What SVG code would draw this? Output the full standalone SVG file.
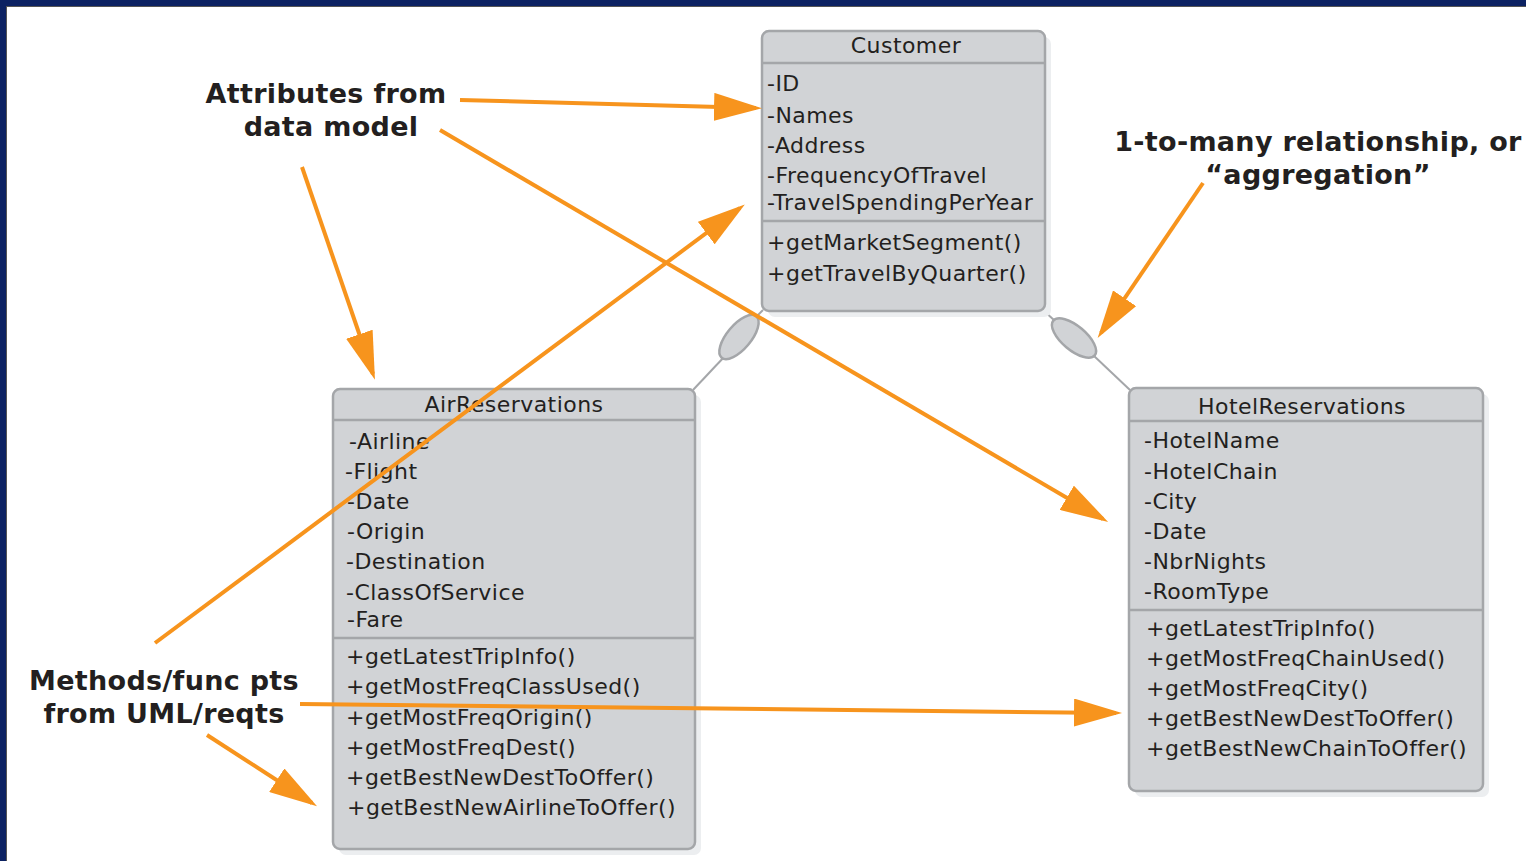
<svg xmlns="http://www.w3.org/2000/svg" width="1526" height="861" viewBox="0 0 1526 861">
<style>
.box{fill:#d1d3d6;stroke:#a4a6a9;stroke-width:2.5}
.shadow{fill:#eceef0}
.sep{stroke:#a4a6a9;stroke-width:2.5}
.t{font-family:"DejaVu Sans",sans-serif;font-size:22px;fill:#231f20;letter-spacing:0.45px}
.c{text-anchor:middle}
.lbl{font-family:"DejaVu Sans",sans-serif;font-size:27px;font-weight:bold;fill:#231f20;text-anchor:middle;letter-spacing:0.3px}
.assoc{stroke:#a4a6a9;stroke-width:2;fill:none}
.agg{fill:#d1d3d6;stroke:#a4a6a9;stroke-width:2.5}
.arr{stroke:#f7941d;stroke-width:4;fill:none;marker-end:url(#ah)}
</style>
<defs>
<marker id="ah" viewBox="0 0 12 7" refX="10.5" refY="3.5" markerWidth="12" markerHeight="7" orient="auto" markerUnits="strokeWidth">
<path d="M0,0 L12,3.5 L0,7 z" fill="#f7941d"/>
</marker>
</defs>
<rect x="0" y="0" width="1526" height="861" fill="#ffffff"/>
<rect x="0" y="0" width="1526" height="6" fill="#0c2262"/>
<rect x="0" y="0" width="6" height="861" fill="#0c2262"/>
<line x1="6" y1="6.5" x2="1526" y2="6.5" stroke="#555" stroke-width="1"/>
<line x1="6.5" y1="6" x2="6.5" y2="861" stroke="#555" stroke-width="1"/>

<g id="connectors">
<line class="assoc" x1="763" y1="310" x2="752" y2="321"/>
<line class="assoc" x1="725" y1="356" x2="693" y2="390"/>
<ellipse class="agg" cx="739" cy="337" rx="27" ry="12" transform="rotate(-50 739 337)"/>
<line class="assoc" x1="1043" y1="310" x2="1055" y2="321"/>
<line class="assoc" x1="1093" y1="355" x2="1130" y2="390"/>
<ellipse class="agg" cx="1074" cy="338" rx="27" ry="12" transform="rotate(40 1074 338)"/>
</g>

<g id="customer">
<rect class="shadow" x="768" y="37" width="283" height="280" rx="7"/>
<rect class="box" x="762" y="31" width="283" height="280" rx="7"/>
<line class="sep" x1="762" y1="63" x2="1045" y2="63"/>
<line class="sep" x1="762" y1="221" x2="1045" y2="221"/>
<text class="t c" x="906" y="53">Customer</text>
<text class="t" x="767" y="91">-ID</text>
<text class="t" x="767" y="123">-Names</text>
<text class="t" x="767" y="153">-Address</text>
<text class="t" x="767" y="183">-FrequencyOfTravel</text>
<text class="t" x="767" y="210">-TravelSpendingPerYear</text>
<text class="t" x="767" y="250">+getMarketSegment()</text>
<text class="t" x="767" y="281">+getTravelByQuarter()</text>
</g>

<g id="air">
<rect class="shadow" x="339" y="395" width="362" height="460" rx="7"/>
<rect class="box" x="333" y="389" width="362" height="460" rx="7"/>
<line class="sep" x1="333" y1="420" x2="695" y2="420"/>
<line class="sep" x1="333" y1="638" x2="695" y2="638"/>
<text class="t c" x="514" y="412">AirReservations</text>
<text class="t" x="349" y="449">-Airline</text>
<text class="t" x="345" y="479">-Flight</text>
<text class="t" x="347" y="509">-Date</text>
<text class="t" x="347" y="539">-Origin</text>
<text class="t" x="346" y="569">-Destination</text>
<text class="t" x="346" y="600">-ClassOfService</text>
<text class="t" x="347" y="627">-Fare</text>
<text class="t" x="346" y="664">+getLatestTripInfo()</text>
<text class="t" x="346" y="694">+getMostFreqClassUsed()</text>
<text class="t" x="346" y="725">+getMostFreqOrigin()</text>
<text class="t" x="346" y="755">+getMostFreqDest()</text>
<text class="t" x="346" y="785">+getBestNewDestToOffer()</text>
<text class="t" x="347" y="815">+getBestNewAirlineToOffer()</text>
</g>

<g id="hotel">
<rect class="shadow" x="1135" y="394" width="354" height="403" rx="7"/>
<rect class="box" x="1129" y="388" width="354" height="403" rx="7"/>
<line class="sep" x1="1129" y1="421" x2="1483" y2="421"/>
<line class="sep" x1="1129" y1="610" x2="1483" y2="610"/>
<text class="t c" x="1302" y="414">HotelReservations</text>
<text class="t" x="1144" y="448">-HotelName</text>
<text class="t" x="1144" y="479">-HotelChain</text>
<text class="t" x="1144" y="509">-City</text>
<text class="t" x="1144" y="539">-Date</text>
<text class="t" x="1144" y="569">-NbrNights</text>
<text class="t" x="1144" y="599">-RoomType</text>
<text class="t" x="1146" y="636">+getLatestTripInfo()</text>
<text class="t" x="1146" y="666">+getMostFreqChainUsed()</text>
<text class="t" x="1146" y="696">+getMostFreqCity()</text>
<text class="t" x="1146" y="726">+getBestNewDestToOffer()</text>
<text class="t" x="1146" y="756">+getBestNewChainToOffer()</text>
</g>

<g id="label-attributes">
<text class="lbl" x="326" y="103">Attributes from</text>
<text class="lbl" x="331" y="136">data model</text>
</g>
<g id="label-aggregation">
<text class="lbl" x="1318" y="151">1-to-many relationship, or</text>
<text class="lbl" x="1318" y="184">“aggregation”</text>
</g>
<g id="label-methods">
<text class="lbl" x="164" y="690">Methods/func pts</text>
<text class="lbl" x="164" y="723">from UML/reqts</text>
</g>

<g id="annotation-arrows">
<line class="arr" x1="460" y1="100" x2="756" y2="108"/>
<line class="arr" x1="440" y1="130" x2="1103" y2="519"/>
<line class="arr" x1="302" y1="167" x2="373" y2="374"/>
<line class="arr" x1="155" y1="643" x2="740" y2="208"/>
<line class="arr" x1="300" y1="704" x2="1116" y2="713"/>
<line class="arr" x1="207" y1="735" x2="312" y2="803"/>
<line class="arr" x1="1203" y1="183" x2="1101" y2="333"/>
</g>
</svg>
